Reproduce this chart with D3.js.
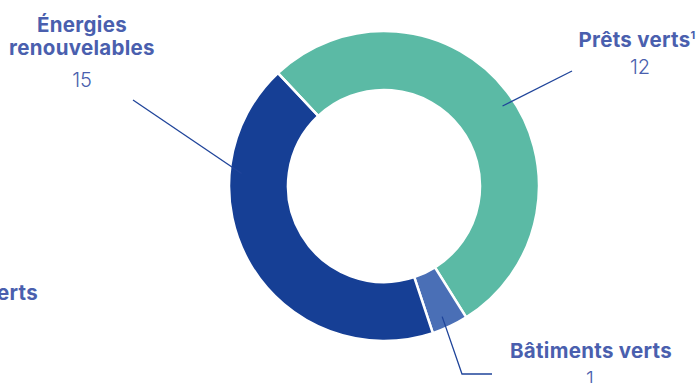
<!DOCTYPE html>
<html>
<head>
<meta charset="utf-8">
<script src="https://cdn.jsdelivr.net/npm/d3@7"></script>
<style>
  html, body { margin: 0; padding: 0; background: #fff; }
  svg { display: block; }
</style>
</head>
<body>
<div id="chart"></div>
<script>
// categories, in drawing order (clockwise from the top-left seam)
const categories = ["Prêts verts", "Bâtiments verts", "Énergies renouvelables", "Transports verts"];
// numbers printed under each label
const counts = [12, 1, 15, 0];
// share of the ring taken by each slice (%)
const shares = [53.1, 3.8, 43.1, 0];
const colors = ["#5bbaa5", "#4a6fb6", "#163f95", "#163f95"];

const W = 700, H = 383,
      cx = 384, cy = 186,
      rOuter = 155, rInner = 96,
      startDeg = -43.2,
      labelBlue = "#4a5fae",
      lineBlue = "#1f449a",
      fontFam = "Inter, 'Open Sans', sans-serif";

// where each label sits and how its leader line runs (layout only)
const labelLayout = [
  {lines: ["Prêts verts"], sup: "1", x: 637, y: 47, valueX: 640, valueGap: 27, anchorDeg: 56, path: [[572, 71]]},
  {lines: ["Bâtiments verts"], x: 591, y: 358, valueX: 590, valueGap: 28, anchorDeg: 156, path: [[462, 374], [492, 374]]},
  {lines: ["Énergies", "renouvelables"], x: 82, y: 32, valueX: 82, valueGap: 32, anchorDeg: 275, path: [[133, 100]]},
  {lines: ["Transports verts"], rightEdge: 38, y: 300, valueX: -6, valueGap: 27, anchorDeg: null, path: []}
];

const svg = d3.select("#chart").append("svg")
  .attr("width", W).attr("height", H);

const pie = d3.pie().sort(null).value(d => d)
  .startAngle(startDeg * Math.PI / 180)
  .endAngle((startDeg + 360) * Math.PI / 180);

const arc = d3.arc().innerRadius(rInner).outerRadius(rOuter);

const ring = svg.append("g").attr("transform", "translate(" + cx + "," + cy + ")");

ring.selectAll("path.slice")
  .data(pie(shares))
  .join("path")
  .attr("class", "slice")
  .attr("d", arc)
  .attr("fill", (d, i) => colors[i])
  .attr("stroke", "#fff")
  .attr("stroke-width", 2.5)
  .attr("stroke-linejoin", "round");

// leader lines
function polar(deg, r){
  let a = deg * Math.PI / 180;
  return [cx + r * Math.sin(a), cy - r * Math.cos(a)];
}

labelLayout.forEach(function(lab){
  if(lab.anchorDeg === null) return;
  let pts = [polar(lab.anchorDeg, 143)].concat(lab.path);
  svg.append("path")
    .attr("d", d3.line()(pts))
    .attr("fill", "none")
    .attr("stroke", lineBlue)
    .attr("stroke-width", 1.3);
});

// labels
labelLayout.forEach(function(lab, i){
  let t = svg.append("text")
    .attr("text-anchor", "middle")
    .attr("font-family", fontFam)
    .attr("letter-spacing", 0.3)
    .attr("fill", labelBlue);
  lab.lines.forEach(function(line, li){
    t.append("tspan")
      .attr("x", lab.x || 0)
      .attr("y", lab.y + li * 23)
      .attr("font-size", 20.5)
      .attr("font-weight", 700)
      .text(line);
    if(lab.sup && li === lab.lines.length - 1){
      t.append("tspan")
        .attr("font-size", 11)
        .attr("font-weight", 700)
        .attr("dy", -8)
        .text(lab.sup);
    }
  });
  // label partly off the left edge: line it up by its right end
  if(lab.rightEdge !== undefined){
    let w = t.node().getComputedTextLength();
    t.selectAll("tspan").attr("x", lab.rightEdge - w / 2);
  }
  svg.append("text")
    .attr("x", lab.valueX)
    .attr("y", lab.y + (lab.lines.length - 1) * 23 + lab.valueGap)
    .attr("text-anchor", "middle")
    .attr("font-family", fontFam)
    .attr("font-size", 20)
    .attr("font-weight", 300)
    .attr("fill", labelBlue)
    .text(counts[i]);
});
</script>
</body>
</html>
